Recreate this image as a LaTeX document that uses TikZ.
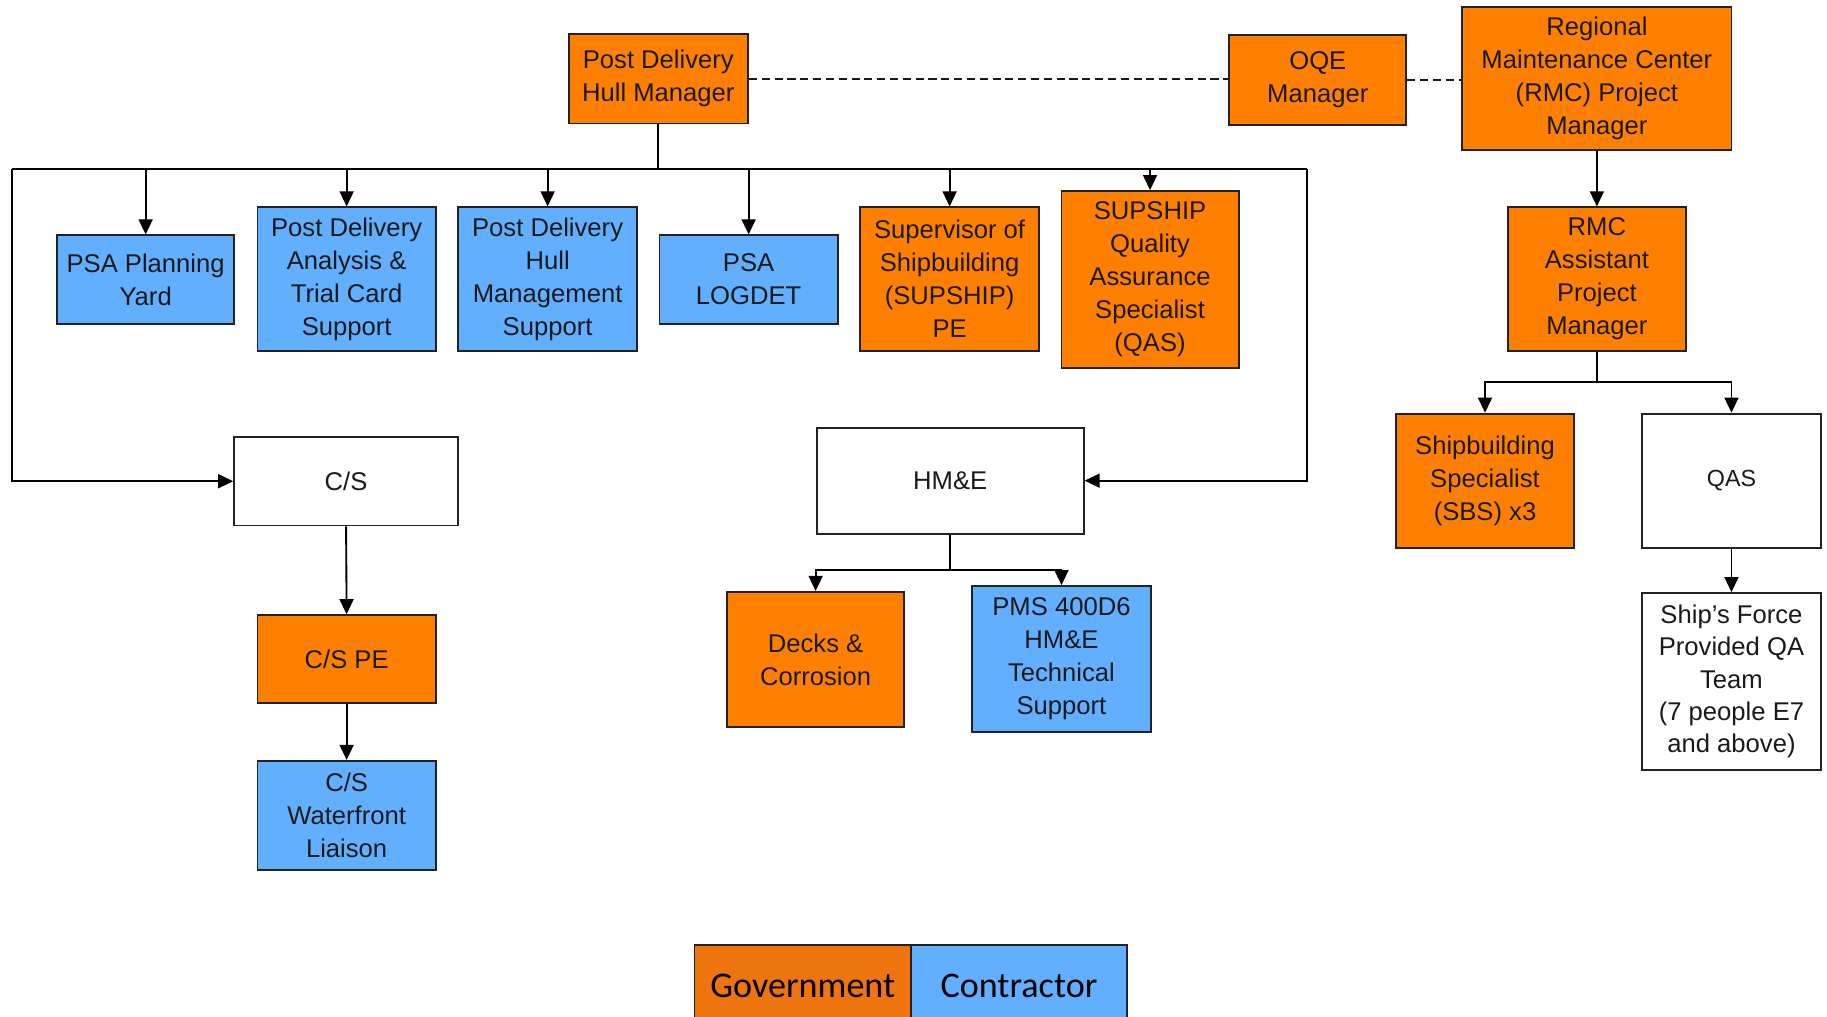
\documentclass[tikz,border=0pt]{standalone}
\usepackage{fontspec}
\setmainfont{Liberation Sans}
\newfontfamily\legendfont{Carlito}
\usetikzlibrary{arrows.meta}
\definecolor{govor}{HTML}{FF8000}
\definecolor{conbl}{HTML}{62AEFF}
\definecolor{legor}{HTML}{EE7410}
\definecolor{edge}{HTML}{222222}
\definecolor{txt}{HTML}{1A1A1A}
\tikzset{
  basebox/.style={draw=edge, line width=1.6pt, inner sep=0pt, align=center, text=txt},
  ml/.style={execute at begin node={\rule{0pt}{21.5pt}}},
  govbox/.style={basebox, fill=govor},
  conbox/.style={basebox, fill=conbl},
  plainbox/.style={basebox, fill=white},
  conn/.style={draw=black, line width=1.6pt},
  arr/.style={conn, -{Triangle[width=12pt,length=13pt]}},
  dashconn/.style={draw=black!90, line width=1.5pt, dash pattern=on 7pt off 4pt},
  legbox/.style={draw=edge, line width=1.6pt, inner sep=0pt, text=black, font=\legendfont\fontsize{31}{36}\selectfont}
}
\begin{document}
\begin{tikzpicture}[x=1pt,y=-1pt, font=\fontsize{22}{28.3}\selectfont]
\clip (0,0) rectangle (1568,872);
\fill[white] (0,0) rectangle (1568,872);

% top row
\node[govbox, ml, minimum width=154pt, minimum height=77pt] (pdhm) at (565,67.5) {Post Delivery\\Hull Manager};
\node[govbox, ml, minimum width=152pt, minimum height=77pt] (oqe) at (1131,68.5) {OQE\\Manager};
\node[govbox, ml, minimum width=231pt, minimum height=123pt] (rmc) at (1370.5,67.5) {Regional\\Maintenance Center\\(RMC) Project\\Manager};

% second row
\node[conbox, ml, minimum width=152pt, minimum height=76pt] (psapy) at (125,240) {PSA Planning\\Yard};
\node[conbox, ml, minimum width=153pt, minimum height=123pt] (pdat) at (297.5,239.5) {Post Delivery\\Analysis \&\\Trial Card\\Support};
\node[conbox, ml, minimum width=154pt, minimum height=123pt] (pdhms) at (470,239.5) {Post Delivery\\Hull\\Management\\Support};
\node[conbox, ml, minimum width=153pt, minimum height=76pt] (logdet) at (642.5,240) {PSA\\LOGDET};
\node[govbox, ml, minimum width=154pt, minimum height=123pt] (supship) at (815,239.5) {Supervisor of\\Shipbuilding\\(SUPSHIP)\\PE};
\node[govbox, ml, minimum width=152pt, minimum height=152pt] (qasone) at (987,240) {SUPSHIP\\Quality\\Assurance\\Specialist\\(QAS)};
\node[govbox, ml, minimum width=153pt, minimum height=123pt] (rmcapm) at (1370.5,239.5) {RMC\\Assistant\\Project\\Manager};

% third row
\node[plainbox, minimum width=192pt, minimum height=76pt] (cs) at (297,413) {C/S};
\node[plainbox, minimum width=229pt, minimum height=91pt] (hme) at (815.5,412.5) {HM\&E};
\node[govbox, ml, minimum width=153pt, minimum height=115pt] (sbs) at (1274.5,412.5) {Shipbuilding\\Specialist\\(SBS) x3};
\node[plainbox, minimum width=154pt, minimum height=115pt, font=\fontsize{20}{24}\selectfont] (qastwo) at (1486,412.5) {QAS};

% lower rows
\node[govbox, minimum width=153pt, minimum height=75pt] (cspe) at (297.5,565.5) {C/S PE};
\node[conbox, ml, minimum width=153pt, minimum height=94pt] (cswl) at (297.5,700) {C/S\\Waterfront\\Liaison};
\node[govbox, ml, minimum width=152pt, minimum height=116pt] (decks) at (700,566) {Decks \&\\Corrosion};
\node[conbox, ml, minimum width=154pt, minimum height=125pt] (pms) at (911,565.5) {PMS 400D6\\HM\&E\\Technical\\Support};
\node[plainbox, ml, minimum width=154pt, minimum height=152pt, font=\fontsize{22}{27.7}\selectfont] (sf) at (1486,585) {Ship's Force\\Provided QA\\Team\\(7 people E7\\and above)};

% legend
\node[legbox, fill=legor, minimum width=186pt, minimum height=70pt] (lgov) at (689,846) {Government};
\node[legbox, fill=conbl, minimum width=185pt, minimum height=70pt] (lcon) at (874.5,846) {Contractor};

% dashed links
\draw[dashconn] (pdhm.east) -- (pdhm.east -| oqe.west);
\draw[dashconn] (oqe.east) -- (oqe.east -| rmc.west);

% main bus
\coordinate (busL) at (10,145);
\coordinate (busR) at (1122,145);
\draw[conn] (pdhm.south) -- (pdhm.south |- busL);
\draw[conn] (busL) -- (busR);
\draw[arr] (psapy.north |- busL) -- (psapy.north);
\draw[arr] (pdat.north |- busL) -- (pdat.north);
\draw[arr] (pdhms.north |- busL) -- (pdhms.north);
\draw[arr] (logdet.north |- busL) -- (logdet.north);
\draw[arr] (supship.north |- busL) -- (supship.north);
\draw[arr] (qasone.north |- busL) -- (qasone.north);
\draw[arr] (busL) |- (cs.west);
\draw[arr] (busR) |- (hme.east);

% C/S chain
\draw[arr] (cs.south) -- (cspe.north);
\draw[arr] (cspe.south) -- (cswl.north);

% HM&E branch
\coordinate (hbus) at (815.5,489);
\draw[conn] (hme.south) -- (hbus);
\draw[arr] (hbus) -| (decks.north);
\draw[arr] (hbus) -| (pms.north);

% RMC branch
\draw[arr] (rmc.south) -- (rmcapm.north);
\coordinate (rbus) at (1370.5,328);
\draw[conn] (rmcapm.south) -- (rbus);
\draw[arr] (rbus) -| (sbs.north);
\draw[arr] (rbus) -| (qastwo.north);
\draw[arr] (qastwo.south) -- (sf.north);
\end{tikzpicture}
\end{document}
